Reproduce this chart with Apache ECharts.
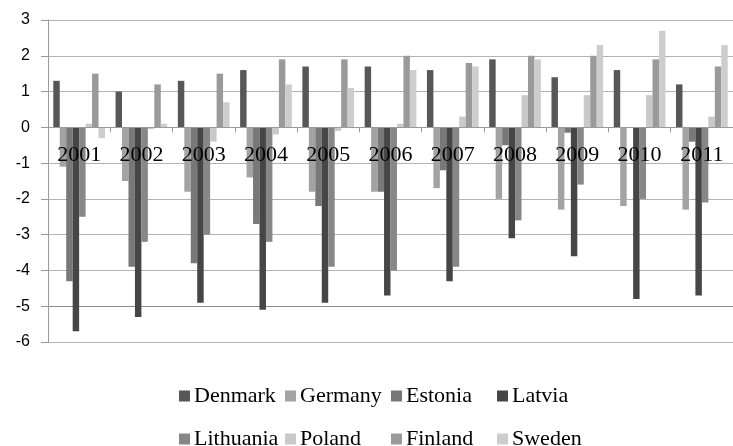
<!DOCTYPE html>
<html>
<head>
<meta charset="utf-8">
<script src="https://cdn.jsdelivr.net/npm/echarts@6/dist/echarts.min.js"></script>
<style>
  html, body { margin: 0; padding: 0; background: #fff; }
  #chart { width: 733px; height: 446px; }
</style>
</head>
<body>
<div id="chart"></div>
<script>
// Annual balance by country, 2001–2011
const years = ['2001', '2002', '2003', '2004', '2005', '2006', '2007', '2008', '2009', '2010', '2011'];
const yTicks = [-6, -5, -4, -3, -2, -1, 0, 1, 2, 3];

const denmark   = [1.3, 1.0, 1.3, 1.6, 1.7, 1.7, 1.6, 1.9, 1.4, 1.6, 1.2];
const germany   = [-1.1, -1.5, -1.8, -1.4, -1.8, -1.8, -1.7, -2.0, -2.3, -2.2, -2.3];
const estonia   = [-4.3, -3.9, -3.8, -2.7, -2.2, -1.8, -1.2, -0.5, -0.15, 0.0, -0.4];
const latvia    = [-5.7, -5.3, -4.9, -5.1, -4.9, -4.7, -4.3, -3.1, -3.6, -4.8, -4.7];
const lithuania = [-2.5, -3.2, -3.0, -3.2, -3.9, -4.0, -3.9, -2.6, -1.6, -2.0, -2.1];
const poland    = [0.1, -0.05, -0.4, -0.2, -0.1, 0.1, 0.3, 0.9, 0.9, 0.9, 0.3];
const finland   = [1.5, 1.2, 1.5, 1.9, 1.9, 2.0, 1.8, 2.0, 2.0, 1.9, 1.7];
const sweden    = [-0.3, 0.1, 0.7, 1.2, 1.1, 1.6, 1.7, 1.9, 2.3, 2.7, 2.3];

const seriesDefs = [
  { name: 'Denmark',   data: denmark,   color: '#575757' },
  { name: 'Germany',   data: germany,   color: '#a3a3a3' },
  { name: 'Estonia',   data: estonia,   color: '#787878' },
  { name: 'Latvia',    data: latvia,    color: '#464646' },
  { name: 'Lithuania', data: lithuania, color: '#878787' },
  { name: 'Poland',    data: poland,    color: '#c9c9c9' },
  { name: 'Finland',   data: finland,   color: '#9a9a9a' },
  { name: 'Sweden',    data: sweden,    color: '#cdcdcd' }
];

// plot box
const gridTop = 20, gridBottom = 104, chartH = 446;
const plotH = chartH - gridTop - gridBottom;
const yMin = yTicks[0], yMax = yTicks[yTicks.length - 1];
// move the category axis up so it sits on the zero line
const zeroOffset = -plotH * (0 - yMin) / (yMax - yMin);

// gridline colours, one per tick from the bottom; the -5 line is drawn darker
const gridColors = yTicks.map(v => (v === -5 ? '#8c8c8c' : '#b3b3b3'));

// legend laid out as a 4 x 2 grid
const legendCols = [179, 285, 391, 497];
const legendRows = [385, 428];
const legends = seriesDefs.map((s, i) => ({
  data: [s.name],
  left: legendCols[i % 4],
  top: legendRows[Math.floor(i / 4)],
  orient: 'horizontal',
  icon: 'rect',
  itemWidth: 11,
  itemHeight: 11,
  itemGap: 0,
  padding: 0,
  selectedMode: false,
  textStyle: {
    fontFamily: '"Liberation Serif", "Times New Roman", serif',
    fontSize: 22,
    color: '#000',
    padding: [0, 0, 0, -1]
  }
}));

const chart = echarts.init(document.getElementById('chart'), null, { renderer: 'canvas' });
chart.setOption({
  animation: false,
  backgroundColor: '#fff',
  legend: legends,
  grid: { left: 48, top: gridTop, right: -8, bottom: gridBottom, containLabel: false },
  xAxis: {
    type: 'category',
    data: years,
    position: 'bottom',
    offset: zeroOffset,
    z: 10,
    axisLine: { onZero: false, lineStyle: { color: '#9a9a9a', width: 1 } },
    axisTick: { show: true, interval: 0, length: 5, lineStyle: { color: '#9a9a9a' } },
    axisLabel: {
      interval: 0,
      margin: 17,
      fontFamily: '"Liberation Serif", "Times New Roman", serif',
      fontSize: 22,
      color: '#000'
    },
    splitLine: { show: false }
  },
  yAxis: {
    type: 'value',
    min: yMin,
    max: yMax,
    interval: 1,
    axisLine: { show: true, lineStyle: { color: '#9a9a9a', width: 1 } },
    axisTick: { show: true, inside: false, length: 7, lineStyle: { color: '#9a9a9a' } },
    axisLabel: {
      margin: 18,
      fontFamily: '"Liberation Sans", Arial, sans-serif',
      fontSize: 16,
      color: '#000'
    },
    splitLine: { show: true, lineStyle: { color: gridColors, width: 1 } }
  },
  series: seriesDefs.map(s => ({
    name: s.name,
    type: 'bar',
    data: s.data,
    barGap: '0%',
    barCategoryGap: '17%',
    itemStyle: { color: s.color },
    emphasis: { disabled: true }
  }))
});
</script>
</body>
</html>
